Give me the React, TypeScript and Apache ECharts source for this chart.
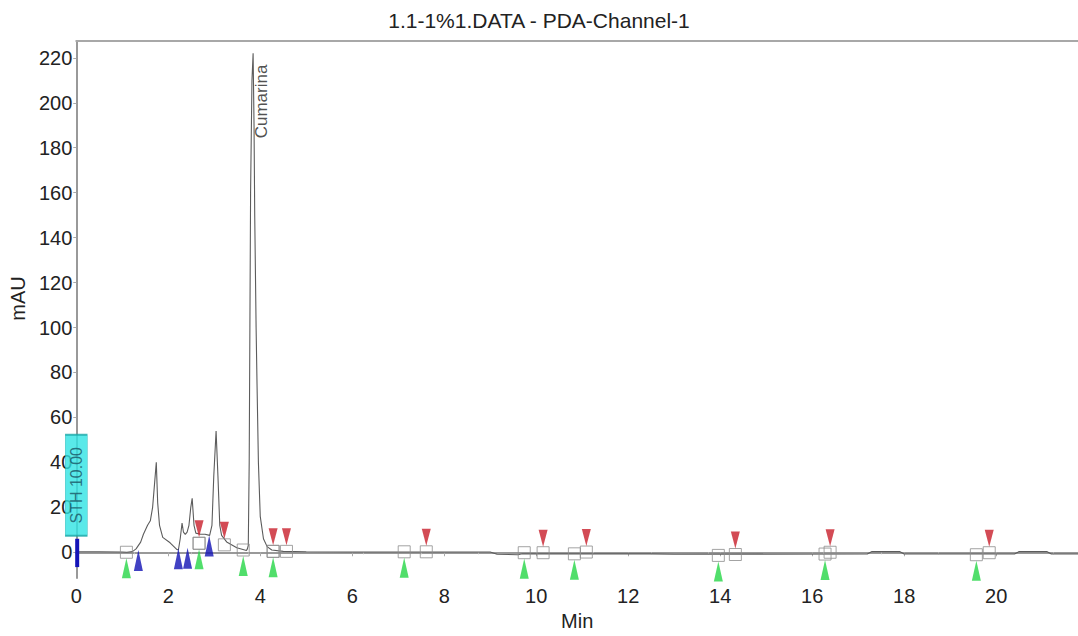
import React, { useEffect, useRef } from "react";
import * as echarts from "echarts";

const titleText = "1.1-1%1.DATA - PDA-Channel-1";
const xName = "Min";
const yName = "mAU";
const xTicks = [0, 2, 4, 6, 8, 10, 12, 14, 16, 18, 20];
const yTicks = [0, 20, 40, 60, 80, 100, 120, 140, 160, 180, 200, 220];

const times = [
  0.0, 0.5, 1.0, 1.1, 1.22, 1.3, 1.4, 1.46, 1.55, 1.61, 1.66, 1.7, 1.74, 1.77, 1.81, 1.88,
  2.04, 2.19, 2.22, 2.26, 2.3, 2.33, 2.37, 2.41, 2.45, 2.49, 2.52, 2.56, 2.6, 2.7, 2.8, 2.9,
  2.95, 2.99, 3.04, 3.08, 3.12, 3.16, 3.27, 3.49, 3.7, 3.72, 3.74, 3.76, 3.775, 3.79, 3.82,
  3.845, 3.865, 3.88, 3.91, 3.93, 3.96, 4.0, 4.07, 4.15, 4.25, 4.5, 5.0, 6.0, 7.0, 8.0, 9.0,
  9.15, 9.6, 9.7, 12.5, 13.0, 17.2, 17.3, 17.9, 18.0, 20.4, 20.5, 21.1, 21.2, 21.9,
];
const signal = [
  0.2, 0.2, 0.1, 0.0, 0.3, 1.5, 4.5, 8, 12, 14, 20, 30, 40, 22, 12, 6.6,
  4.2, 1.2, 1, 6, 13, 9, 8, 9, 12, 20, 24, 12, 8.5, 8, 8, 7.5,
  12, 34, 54, 34, 12, 7.5, 4.6, 2, 0.8, 1.5, 3, 40, 100, 160, 210,
  222, 190, 150, 100, 75, 40, 16, 6, 2.5, 1, 0.4, 0.2, 0.1, 0.1, 0.1, 0.1,
  -0.9, -1.1, -0.7, -0.7, -0.9, -0.8, 0.3, 0.3, -0.8, -0.8, 0.3, 0.3, -0.8, -0.8,
];

const startTimes = [1.09, 2.67, 3.63, 4.28, 7.13, 9.74, 10.83, 13.96, 16.28, 19.57];
const startValues = [0, 4, 1, 0.4, 0.2, -0.2, -0.7, -1.4, -0.8, -1.1];
const endTimes = [2.67, 3.22, 4.28, 4.57, 7.61, 10.15, 11.09, 14.33, 16.39, 19.85];
const endValues = [4, 3.3, 0.4, 0.4, 0.2, -0.2, 0.1, -1, 0, -0.2];
const valleyTimes = [1.35, 2.22, 2.42, 2.89];
const valleyValues = [1, 1.8, 2, 7.5];

const peakName = "Cumarina";
const peakTime = 3.85;
const peakLabelValue = 217;

const thresholdText = "STH 10.00";
const thresholdTime = 0;
const thresholdValue = 29.8;

const eventBarTimes = [0.02, 0.02];
const eventBarValues = [6, -6.6];

const FONT = "'Liberation Sans', Arial, sans-serif";
const X_MAX = 21.78;

export default function App() {
  const ref = useRef<HTMLDivElement>(null);
  useEffect(() => {
    if (!ref.current) return;
    const chart = echarts.init(ref.current, undefined, { renderer: "svg" });
    const zip = (a: number[], b: number[]) => a.map((v, i) => [v, b[i]]);
    const squares = [...zip(startTimes, startValues), ...zip(endTimes, endValues)];
    chart.setOption({
      animation: false,
      backgroundColor: "#ffffff",
      title: {
        text: titleText,
        left: "center",
        top: 5,
        textStyle: { fontFamily: FONT, fontSize: 21, fontWeight: "normal", color: "#222" },
      },
      grid: {
        left: 76,
        right: 0,
        top: 41,
        bottom: 52.5,
        show: false,
        containLabel: false,
      },
      xAxis: [
        {
          type: "value",
          min: 0,
          max: X_MAX,
          name: xName,
          nameLocation: "middle",
          nameGap: 30,
          nameTextStyle: { fontFamily: FONT, fontSize: 20, color: "#222" },
          axisLine: { show: true, lineStyle: { color: "#999", width: 2 } },
          axisTick: { show: true, customValues: xTicks, length: 4, lineStyle: { color: "#aaa" } },
          minorTick: { show: true, splitNumber: 4, length: 2, lineStyle: { color: "#bbb" } },
          axisLabel: { customValues: xTicks, fontFamily: FONT, fontSize: 20, color: "#222", margin: 8 },
          splitLine: { show: false },
        },
        {
          type: "value",
          position: "top",
          min: 0,
          max: X_MAX,
          axisLine: { show: true, lineStyle: { color: "#a8a8a8", width: 2 } },
          axisTick: { show: false },
          axisLabel: { show: false },
          splitLine: { show: false },
        },
      ],
      yAxis: {
        type: "value",
        min: -11.5,
        max: 227.5,
        name: yName,
        nameLocation: "middle",
        nameGap: 46,
        nameRotate: 90,
        nameTextStyle: { fontFamily: FONT, fontSize: 20, color: "#222", padding: [0, 0, 0, 22] },
        axisLine: { show: true, lineStyle: { color: "#999", width: 2 } },
        axisTick: { show: true, customValues: yTicks, length: 3, lineStyle: { color: "#aaa" } },
        axisLabel: { customValues: yTicks, fontFamily: FONT, fontSize: 20, color: "#222", margin: 4 },
        splitLine: { show: false },
      },
      series: [
        {
          name: "trace",
          type: "line",
          data: zip(times, signal),
          showSymbol: false,
          lineStyle: { color: "#5c5c5c", width: 1.1 },
          z: 3,
          silent: true,
        },
        {
          name: "eventBar",
          type: "line",
          data: zip(eventBarTimes, eventBarValues),
          showSymbol: false,
          lineStyle: { color: "#1414b8", width: 4 },
          z: 4,
        },
        {
          name: "boxes",
          type: "scatter",
          data: squares,
          symbol: "rect",
          symbolSize: 12,
          itemStyle: { color: "rgba(255,255,255,0)", borderColor: "#8c8c8c", borderWidth: 1 },
          z: 5,
        },
        {
          name: "starts",
          type: "scatter",
          data: zip(startTimes, startValues),
          symbol: "triangle",
          symbolSize: [9, 20],
          symbolOffset: [0, 16],
          itemStyle: { color: "#26d646" },
          z: 6,
        },
        {
          name: "ends",
          type: "scatter",
          data: zip(endTimes, endValues),
          symbol: "triangle",
          symbolRotate: 180,
          symbolSize: [9, 17],
          symbolOffset: [0, -14.5],
          itemStyle: { color: "#c81e2a" },
          z: 6,
        },
        {
          name: "valleys",
          type: "scatter",
          data: zip(valleyTimes, valleyValues),
          symbol: "triangle",
          symbolSize: [9, 21],
          symbolOffset: [0, 10.5],
          itemStyle: { color: "#1212b4" },
          z: 6,
        },
        {
          name: "threshold",
          type: "scatter",
          data: [[thresholdTime, thresholdValue]],
          symbol: "rect",
          symbolSize: [22, 101],
          clip: false,
          itemStyle: { color: "#30e4e4", borderColor: "#1aa6a6", borderWidth: 1 },
          label: {
            show: true,
            position: "inside",
            formatter: thresholdText,
            rotate: 90,
            fontFamily: FONT,
            fontSize: 16,
            color: "#1a5464",
          },
          z: 8,
        },
        {
          name: "peakLabel",
          type: "scatter",
          data: [[peakTime, peakLabelValue]],
          symbolSize: 1,
          itemStyle: { color: "rgba(0,0,0,0)" },
          label: {
            show: true,
            position: "inside",
            formatter: peakName,
            rotate: 90,
            align: "right",
            verticalAlign: "top",
            fontFamily: FONT,
            fontSize: 17,
            color: "#222",
          },
          z: 7,
        },
      ],
    });
    return () => chart.dispose();
  }, []);
  return (
    <div
      ref={ref}
      style={{ position: "fixed", left: 0, top: 0, width: 1078, height: 636, background: "#fff" }}
    />
  );
}
